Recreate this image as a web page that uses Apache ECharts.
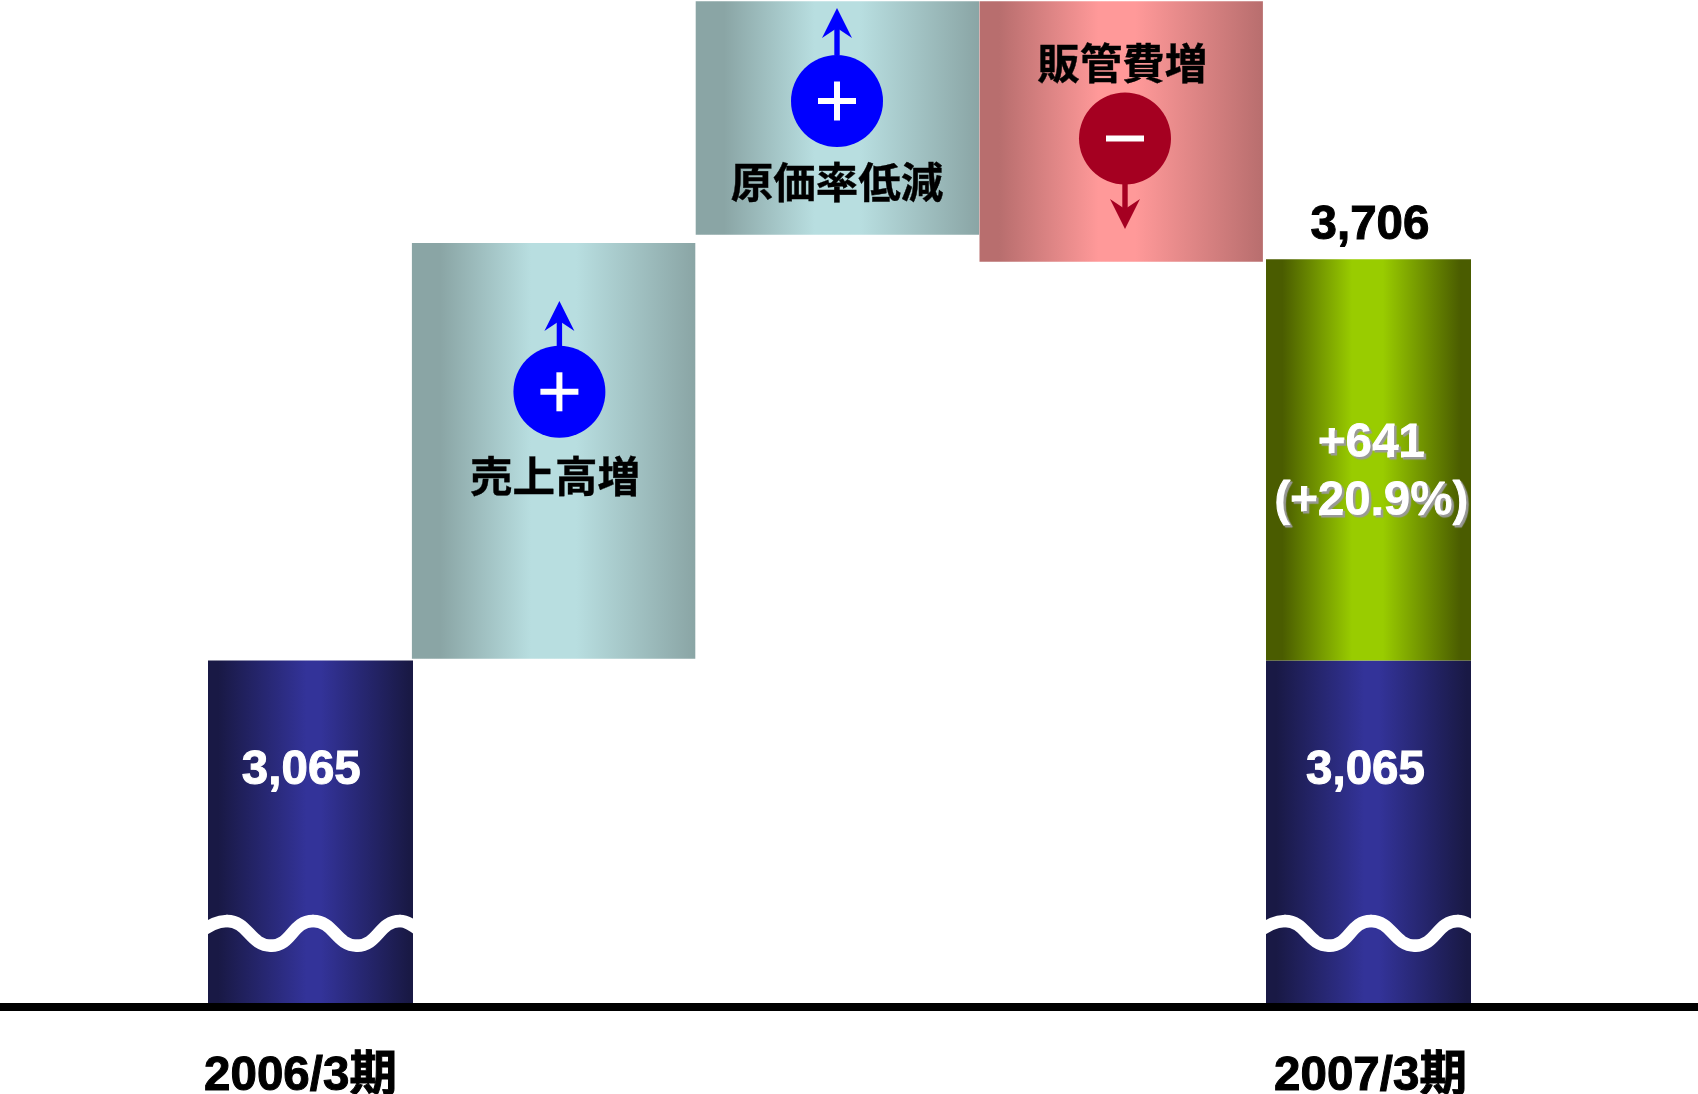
<!DOCTYPE html>
<html><head><meta charset="utf-8">
<style>html,body{margin:0;padding:0;background:#fff}#c{width:1698px;height:1094px}</style>
<script src="https://cdn.jsdelivr.net/npm/echarts@6/dist/echarts.min.js"></script>
</head><body><div id="c"></div>
<script>
// ---- data ----
const periods = ['2006/3期', '2007/3期'];
const priorValues = [3065, 3065];
const increaseValues = [null, 641];
const totalValues = [null, 3706];
const increaseText = '+641\n(+20.9%)';
const factors = ['売上高増', '原価率低減', '販管費増'];
const factorFloors = [3068, 3745, 3702];
const factorHeights = [664, 373, 416];
const axisMin = 2518, axisMax = 4120;

// ---- styling and layout ----
const FONT = '"Liberation Sans","Noto Sans CJK JP",sans-serif';
const V = (edge, mid, a, b, c, d) => ({type:'linear',x:0,y:0,x2:1,y2:0,colorStops:[
  {offset:0,color:edge},{offset:a,color:edge},{offset:b,color:mid},{offset:c,color:mid},{offset:d,color:edge},{offset:1,color:edge}]});
const NAVY = V('#191945','#333399',.05,.48,.55,.98), GREEN = V('#4A5C00','#99CC00',.08,.42,.57,.95);
const TEAL = V('#8AA5A5','#B8DEE0',.1,.42,.58,1), PINK = V('#B86E6E','#FF9999',.07,.42,.55,1);
const FILLS = [TEAL, TEAL, PINK];
const priorOffsets = [[-9.2,-61],[-3,-61]];
const factorOffsets = [[1.5,25.5],[-0.5,64],[1,-68.5]];
const yAxisBase = {type:'value',min:axisMin,max:axisMax,show:false};
const txt = (size,color) => ({fontFamily:FONT,fontWeight:'bold',fontSize:size,color,textBorderColor:color,textBorderWidth:1});
const gridBase = {outerBoundsMode:'none',containLabel:false,top:0};

const option = {
  animation:false, backgroundColor:'#fff', tooltip:{show:false},
  grid:[
    {...gridBase,left:-218.5,width:2116,height:1003},
    {...gridBase,left:411.7,width:851.4,height:1003},
    {...gridBase,left:0,right:0,height:1007}
  ],
  xAxis:[
    {gridIndex:0,type:'category',data:periods,
     axisLine:{show:false},axisTick:{show:false},
     axisLabel:{interval:0,margin:50,lineHeight:47,hideOverlap:false,
       formatter:(v,i)=>`{p${i}|${v}}`,
       rich:{p0:{...txt(47.5,'#000'),padding:[0,20,0,0]},p1:{...txt(47.5,'#000'),padding:[0,0,0,4]}}}},
    {gridIndex:1,type:'category',data:factors,show:false},
    {gridIndex:2,type:'category',data:[''],axisTick:{show:false},axisLabel:{show:false},
     axisLine:{show:true,lineStyle:{color:'#000',width:8}}}
  ],
  yAxis:[{...yAxisBase,gridIndex:0},{...yAxisBase,gridIndex:1},{...yAxisBase,gridIndex:2}],
  series:[
    {name:'前期',type:'bar',xAxisIndex:0,yAxisIndex:0,stack:'p',barWidth:205,
     itemStyle:{color:NAVY},
     data:priorValues.map((v,i)=>({value:v,label:{show:true,position:'inside',offset:priorOffsets[i],
       formatter:()=>v.toLocaleString('en-US'),...txt(47.5,'#fff')}}))},
    {name:'増加',type:'bar',xAxisIndex:0,yAxisIndex:0,stack:'p',barWidth:205,
     itemStyle:{color:GREEN},
     label:{show:true,position:'inside',offset:[3,13.5],formatter:()=>increaseText,lineHeight:58,
       ...txt(47.5,'#fff'),textShadowColor:'#999',textShadowOffsetX:2,textShadowOffsetY:2,textShadowBlur:1},
     data:increaseValues},
    {name:'合計',type:'scatter',xAxisIndex:0,yAxisIndex:0,symbolSize:0,itemStyle:{opacity:1},
     label:{show:true,position:'top',distance:9.5,offset:[1.5,0],
       formatter:p=>p.value.toLocaleString('en-US'),...txt(47.5,'#000')},
     data:totalValues},
    {name:'基準',type:'bar',xAxisIndex:1,yAxisIndex:1,stack:'f',barWidth:283.4,
     itemStyle:{color:'transparent'},silent:true,data:factorFloors},
    {name:'要因',type:'bar',xAxisIndex:1,yAxisIndex:1,stack:'f',barWidth:283.4,
     data:factorHeights.map((v,i)=>({value:v,itemStyle:{color:FILLS[i]},
       label:{show:true,position:'inside',offset:factorOffsets[i],formatter:'{b}',...txt(42.5,'#000'),textBorderWidth:0.4,
         fontFamily:'"Noto Sans CJK JP",sans-serif'}}))}
  ],
  graphic:{elements:[]}
};

// ---- decorations: breaks, signs and arrows ----
const deco = option.graphic.elements;
const Z = {z:100};
const waveSegs = [
  [198,934, 205,928, 216,921, 227,921],
  [227,921, 248,921, 250,945.7, 271,945.7],
  [271,945.7, 292,945.7, 292,921, 313,921],
  [313,921, 334,921, 336,945.7, 357,945.7],
  [357,945.7, 378,945.7, 379,921, 400,921],
  [400,921, 408,921, 415,927, 423,933]
];
function wave(dx){
  waveSegs.forEach(s=>deco.push({type:'bezierCurve',...Z,
    shape:{x1:s[0]+dx,y1:s[1],cpx1:s[2]+dx,cpy1:s[3],cpx2:s[4]+dx,cpy2:s[5],x2:s[6]+dx,y2:s[7]},
    style:{fill:'none',stroke:'#fff',lineWidth:12.5,lineCap:'round'}}));
}
wave(0); wave(1058);
function sign(cx,cy,color,up,reach){
  deco.push({type:'circle',...Z,shape:{cx,cy,r:46},style:{fill:color}});
  const d=up?-1:1, tip=cy+d*reach, notch=tip-d*20, barb=tip-d*30;
  deco.push({type:'rect',...Z,shape:{x:cx-2.7,y:Math.min(cy+d*46,notch)-0.5,width:5.4,height:Math.abs(notch-(cy+d*46))+1},style:{fill:color}});
  deco.push({type:'polygon',...Z,shape:{points:[[cx,tip],[cx-15,barb],[cx,notch],[cx+15,barb]]},style:{fill:color}});
  deco.push({type:'rect',z:101,shape:{x:cx-19,y:cy-3,width:38,height:6},style:{fill:'#fff'}});
  if(up) deco.push({type:'rect',z:101,shape:{x:cx-3,y:cy-19.5,width:6,height:39},style:{fill:'#fff'}});
}
sign(559.4,391.8,'#0000FF',true,90.8);
sign(837,101,'#0000FF',true,93);
sign(1125,138.5,'#A50021',false,90.5);

echarts.init(document.getElementById('c'),null,{renderer:'canvas'}).setOption(option);
</script></body></html>
